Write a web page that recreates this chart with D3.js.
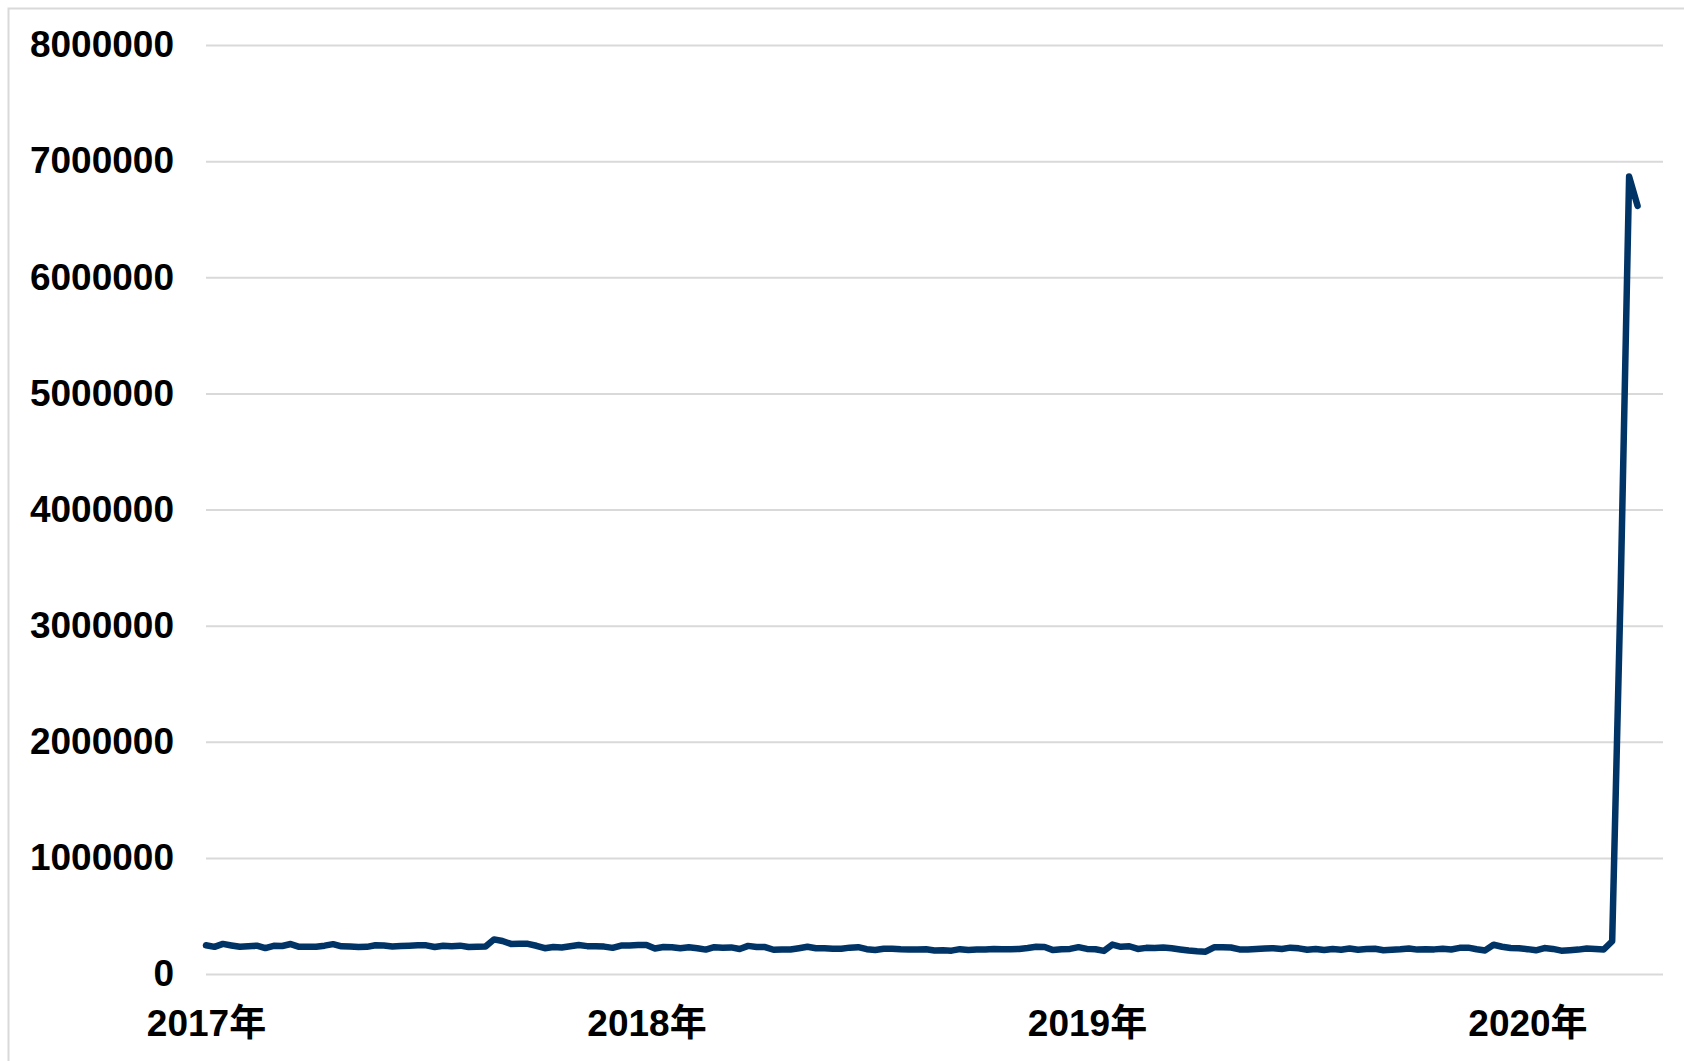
<!DOCTYPE html>
<html>
<head>
<meta charset="utf-8">
<script src="https://cdn.jsdelivr.net/npm/d3@7/dist/d3.min.js"></script>
<style>
html,body{margin:0;padding:0;background:#fff;}
svg{display:block;}
text{font-family:"Liberation Sans",Arial,"Noto Sans CJK SC",sans-serif;font-weight:bold;fill:#000;}
</style>
</head>
<body>
<script>
// Weekly values (thousands), Jan 2017 – Apr 2020
const values2017 = [247,234,259,246,234,239,244,223,243,241,258,234,234,234,244,257,238,236,232,234,248,245,237,241,244,248,247,233,244,240,244,232,234,236,298,284,259,260,260,243,222,233,229,239,249,240,238,236,225,245,245,250];
const values2018 = [250,220,233,230,221,230,222,210,231,226,229,215,242,233,232,209,211,211,222,234,222,222,218,218,227,231,214,207,217,218,213,212,210,213,203,204,201,214,207,210,210,215,214,214,216,224,234,233,206,214,216,231];
const values2019 = [216,213,199,253,234,239,216,225,223,229,221,211,202,196,192,230,230,228,212,211,215,219,222,216,227,221,209,216,206,215,209,220,209,215,217,204,208,213,220,210,214,212,218,211,225,227,213,203,252,235,224,222];
const values2020 = [214,204,223,216,201,205,210,219,216,211,282,3307,6867,6615];
const tickIndex = [0,52,104,156];
const tickLabels = ["2017年","2018年","2019年","2020年"];
const yTicks = [0,1000000,2000000,3000000,4000000,5000000,6000000,7000000,8000000];

const series = values2017.concat(values2018, values2019, values2020).map(v => v * 1000);

const W = 1684, H = 1061;
const svg = d3.select("body").append("svg").attr("width", W).attr("height", H);

// chart frame
svg.append("rect").attr("x", 8.5).attr("y", 8.5).attr("width", W + 10).attr("height", H + 10)
  .attr("fill", "none").attr("stroke", "#d9d9d9").attr("stroke-width", 2);

const x = d3.scaleLinear().domain([0, 172]).range([206, 1663]);
const y = d3.scaleLinear().domain([0, 8000000]).range([974, 45]);

// gridlines
const yAxis = d3.axisLeft(y).tickValues(yTicks).tickSize(-(1663 - 206)).tickFormat(d3.format("d")).tickPadding(32);
const gy = svg.append("g").attr("transform", "translate(206,0)").call(yAxis);
gy.select(".domain").remove();
gy.selectAll(".tick line").attr("stroke", "#d9d9d9").attr("stroke-width", 2);
gy.selectAll(".tick text").attr("font-size", 37).attr("fill", "#000");

// x labels
const xAxis = d3.axisBottom(x).tickValues(tickIndex).tickSize(0).tickPadding(36)
  .tickFormat((d, i) => tickLabels[i]);
const gx = svg.append("g").attr("transform", "translate(0,974)").call(xAxis);
gx.select(".domain").remove();
gx.selectAll(".tick text").attr("font-size", 37).attr("fill", "#000");

// line
const line = d3.line().x((d, i) => x(i)).y(d => y(d));
svg.append("path").datum(series).attr("d", line)
  .attr("fill", "none").attr("stroke", "#003366").attr("stroke-width", 6.5)
  .attr("stroke-linejoin", "round").attr("stroke-linecap", "round");
</script>
</body>
</html>
